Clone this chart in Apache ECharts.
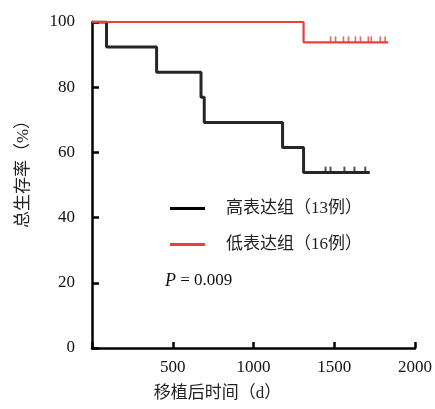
<!DOCTYPE html>
<html><head><meta charset="utf-8">
<script src="https://cdn.jsdelivr.net/npm/echarts@6/dist/echarts.min.js"></script>
<style>html,body{margin:0;padding:0;background:#fff}#c{width:435px;height:409px}</style>
</head><body><div id="c"></div>
<script>
// Kaplan-Meier curves: [day, survival %]
const highName = '高表达组（13例）';
const lowName = '低表达组（16例）';
const highSteps = [[0,100],[90,92.3],[400,84.6],[675,76.9],[695,69.2],[1180,61.5],[1310,53.8],[1720,53.8]];
const highCensor = [[1446,53.8],[1477,53.8],[1563,53.8],[1625,53.8],[1692,53.8]];
const lowSteps = [[0,100],[1310,93.75],[1834,93.75]];
const lowCensor = [[1477,93.75],[1508,93.75],[1557,93.75],[1588,93.75],[1631,93.75],[1662,93.75],[1711,93.75],[1729,93.75],[1785,93.75],[1815,93.75]];
const xTicks = [0,500,1000,1500,2000];
const yTicks = [0,20,40,60,80,100];
const xTitle = '移植后时间（d）';
const yTitle = '总生存率（%）';
const pText = '0.009';

const serif = '"Liberation Serif","Noto Sans CJK SC",serif';
const chart = echarts.init(document.getElementById('c'), null, {renderer:'canvas'});
const black = '#262626', red = '#e8413c';
chart.setOption({
  animation:false,
  grid:{left:92,right:18,top:22,bottom:61,containLabel:false},
  xAxis:{type:'value',min:xTicks[0],max:xTicks[xTicks.length-1],interval:500,
    axisLine:{lineStyle:{color:'#000',width:2.5}},
    axisTick:{inside:true,length:6,lineStyle:{color:'#000',width:2.5}},
    splitLine:{show:false},
    axisLabel:{color:'#111',fontFamily:serif,fontSize:17,margin:11,
      formatter:v=>v===0?'':String(v)}},
  yAxis:{type:'value',min:yTicks[0],max:yTicks[yTicks.length-1],interval:20,
    axisLine:{show:true,lineStyle:{color:'#000',width:2.5}},
    axisTick:{show:true,inside:true,length:7,lineStyle:{color:'#000',width:2.5}},
    splitLine:{show:false},
    axisLabel:{color:'#111',fontFamily:serif,fontSize:17,margin:17}},
  legend:{orient:'vertical',left:165,top:195,itemGap:19,itemWidth:35,itemHeight:3,
    data:[{name:highName,icon:'rect'},{name:lowName,icon:'rect'}],
    textStyle:{fontFamily:serif,fontSize:17,color:'#222',padding:[0,0,0,16]}},
  series:[
    {name:highName,type:'line',step:'end',data:highSteps,showSymbol:false,
      lineStyle:{color:black,width:3},itemStyle:{color:'#000'},z:2},
    {name:'highCensor',type:'scatter',data:highCensor,symbol:'rect',symbolSize:[2,6],
      symbolOffset:[0,-3],itemStyle:{color:black},z:3},
    {name:lowName,type:'line',step:'end',data:lowSteps,showSymbol:false,
      lineStyle:{color:red,width:2.2},itemStyle:{color:red},z:4},
    {name:'lowCensor',type:'scatter',data:lowCensor,symbol:'rect',symbolSize:[1.6,6],
      symbolOffset:[0,-3],itemStyle:{color:red},z:5}
  ],
  graphic:[
    {type:'text',left:'center',x:0,top:385,style:{text:xTitle,font:'17px '+serif,fill:'#222'}},
    {type:'text',x:24,y:170,rotation:Math.PI/2,
      style:{text:yTitle,font:'17px '+serif,fill:'#222',align:'center',verticalAlign:'middle'}},
    {type:'text',x:165,y:272,style:{rich:{p:{fontFamily:serif,fontSize:18,fontStyle:'italic',fill:'#111'},
      n:{fontFamily:serif,fontSize:17,fill:'#111'}},text:'{p|P}{n| = '+pText+'}'}}
  ]
});
</script></body></html>
